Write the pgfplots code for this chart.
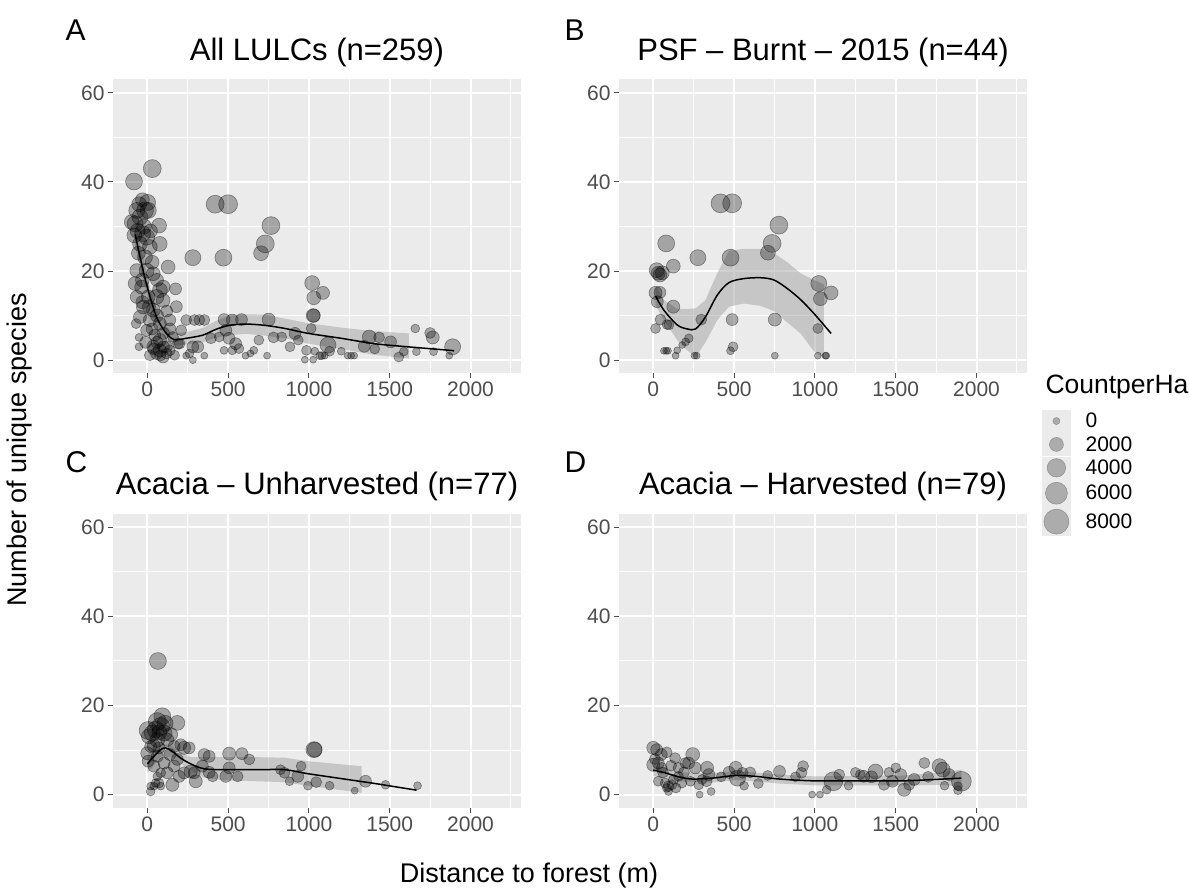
\documentclass[border=0pt]{standalone}
\usepackage{fontspec}
\setmainfont{Liberation Sans}
\usepackage{pgfplots}
\pgfplotsset{compat=1.18}
\usepackage{pgfplotstable}
\definecolor{panelbg}{RGB}{235,235,235}
\definecolor{ticklab}{RGB}{77,77,77}
\definecolor{bandc}{RGB}{153,153,153}
\definecolor{keybg}{RGB}{235,235,235}
\definecolor{keypt}{RGB}{172,172,172}
\definecolor{keyptd}{RGB}{140,140,140}

\pgfplotstableread{
x y c
-82 40.1 3300
31 43 3800
2 35.4 2900
420 35 3800
500 35 4300
765 30.2 3800
730 26.1 3800
704 24 2400
282 23 2900
471 23 3300
129 20.9 2000
73 30.2 2400
77 26.1 2400
175 16 1300
1020 17.3 2400
1087 15.1 1700
1030 14 2000
1026 10 2000
1030 10 1700
1014 7.1 700
1658 7.1 400
1750 6.1 1000
1766 5.1 1700
1889 3 2900
1868 1 0
1771 1.9 200
1665 1.9 200
1556 0.7 700
1587 1.9 400
1505 4.1 1300
1434 5.1 1000
1373 5.2 2000
1342 3.1 1300
1407 2.5 700
1261 1 0
1240 1 0
1280 1 0
1200 2 200
1118 3.4 2900
1128 2 700
1067 1 200
1080 1 200
1098 1 0
1036 2 200
975 0.1 0
1026 0.1 0
985 2.2 700
934 4.5 700
914 6 1300
883 3 700
832 5.2 700
781 5.1 1000
751 9.1 1700
690 4.5 700
741 1 0
659 2.2 200
638 1.5 0
608 1 0
583 9.1 1300
526 9 1300
475 9.1 1300
486 6.7 1300
506 4.9 1300
547 3.7 1300
567 2.6 700
475 2.2 200
526 2.2 400
445 5.2 700
394 4.9 1000
353 9 1000
322 9 1000
292 9 1000
241 9 1000
312 3 1300
282 3 1300
261 1.5 400
282 0 0
353 1 0
241 1 0
210 6.7 1000
180 12 1300
139 9 1300
159 5.2 1000
200 3.7 1000
-51 5.1 200
-51 3 200
-69 8.2 700
-75 30.6 2900
-96 31 2400
-45 32.1 2900
-14 33.6 3300
-65 33.6 2900
6 33.6 2900
-29 28.4 2900
-4 27.6 2900
-45 26.1 2400
16 25.4 2400
-14 23.1 2400
-65 20.1 2000
-4 20.1 2400
37 19.4 2000
-75 17.2 2000
-35 16.4 2000
78 15.7 2400
98 16.4 2000
57 14.2 2400
98 13.4 2000
6 14.2 2000
-65 14.2 1700
-24 11.9 2000
37 11.2 2000
-45 9.7 1700
16 9 1700
78 8.2 1700
-4 6.7 1300
47 5.6 1300
78 4.5 1700
37 3 1700
78 2.2 1700
118 3 1300
57 1.5 1300
98 0.7 1300
16 1.1 1000
139 2.2 1000
169 1.1 700
190 3.7 1000
-20 30 2400
20 29 2000
-55 24 2000
30 22 2000
-30 18 2000
60 18 1700
10 12 1700
60 10 1700
100 6 1300
120 11 1300
140 7 1300
30 7 1300
-10 4 1300
60 4 1300
100 3 1300
80 1 1000
40 2.5 1300
120 1.5 1000
-30 13 1700
-80 28 2400
-60 29 2400
-30 36 2000
-50 35 2400
}\ptsA

\pgfplotstableread{
x y c
416 35.2 4300
488 35.2 4300
777 30.3 3800
735 26.2 3800
709 24.1 2400
80 26.2 3300
276 23 2900
478 23 3300
21 20.2 2400
56 19.6 2000
41 19.1 2000
124 21.1 2000
14 15.1 1700
41 15.2 1300
25 13.1 1300
124 12 1700
1024 17.2 2900
1100 15.1 2000
1034 13.8 2000
45 9.1 1000
97 7.9 700
14 7.1 700
297 9.1 1000
488 9.1 1300
752 9.1 1700
1018 7.1 700
220 4.9 400
200 4.1 200
179 3.4 0
148 2.2 0
138 1 0
66 2.1 0
91 2.1 0
80 2.1 0
255 1 0
268 1 0
494 3 700
478 2.1 200
752 1 0
1018 1 0
1065 1 0
1070 1 0
30 19.5 2000
85 8 700
}\ptsB

\pgfplotstableread{
x y c
66 30 3300
93 17.6 3300
62 16.4 3800
83 15.3 3800
52 14.6 3300
5 14.4 3800
186 16.1 2400
104 13.8 2900
10 13.1 2400
62 12.3 2400
124 12.3 1700
207 11.2 1300
228 10.5 1700
259 10.5 1300
352 9 1300
0 9.3 1700
5 7.5 1300
62 8.6 1300
104 7.1 1300
166 6.4 1300
197 4.1 1300
155 2.2 1700
83 4.9 700
62 4.1 400
52 2.6 400
21 1.9 200
21 0.7 400
41 1.9 200
83 1.9 200
269 5.2 1700
300 3 1700
290 4.9 1300
383 5 1300
383 8.6 1300
341 6.4 1300
486 4.1 1300
507 9.2 1700
507 6 1300
559 4.1 1000
586 9.2 1300
631 7.9 1000
404 4.1 1000
849 4.9 1000
880 3 400
952 6.4 700
931 4.1 1300
994 2 400
1045 2.8 1000
1128 2 400
1031 10.1 2900
1036 10.1 2400
1350 3 1300
1283 0.9 0
1474 2.2 400
1672 2 200
824 5.6 700
31 13.8 2900
145 13.5 2000
166 10.8 1300
21 10.8 1300
72 10.5 1300
41 6.4 1300
124 4.9 1300
72 2.6 700
186 7.9 1300
228 4.9 1300
110 16 2900
75 14 2400
40 11 1700
140 9 1300
}\ptsC

\pgfplotstableread{
x y c
0 10.5 1700
21 10.1 1300
83 9.5 1000
0 6.7 1700
31 7.1 1300
52 6 1000
135 8.2 1000
198 7.1 1000
244 9 2000
219 7.1 1300
260 6 1300
333 6 1700
344 4.5 1300
156 6 1000
31 3 700
73 2.6 700
94 1.9 1000
115 2.2 700
94 0.7 200
83 1.5 400
125 3.4 700
156 4.1 700
177 2.6 700
281 2.2 700
287 0 0
358 0.7 200
302 3.4 700
469 5 1300
510 6 1700
521 3.7 2900
562 2 400
552 4.9 1000
708 4.3 700
781 5.2 1300
927 6.4 1000
917 4.9 1000
983 0 0
1031 0 0
1073 1.1 400
1114 3 4300
1208 2 400
1281 4.5 700
1302 4.1 1300
1375 5.2 2400
1427 2.2 1000
1458 5 700
1479 3 1300
1531 4.5 1300
1552 1.1 1700
1583 2.2 1000
1614 3.4 1300
1677 7.1 1000
1771 6.4 2400
1791 5.6 2400
1802 2 400
1885 1 400
1906 3 4800
1885 1.9 400
10 8 1000
50 9 1300
110 6.5 1000
190 5 1000
230 3 700
140 1.5 700
60 5 1000
330 3 1000
420 4 700
600 5 1000
650 2.5 700
880 4 700
1150 4.5 1000
1350 4 1300
1700 4 1000
1830 4.5 1300
1500 6 700
1250 5 700
}\ptsD

\pgfplotsset{
  gg/.style={
    scale only axis, width=408pt, height=294pt,
    xmin=-212, xmax=2312, ymin=-3, ymax=63,
    axis background/.style={fill=panelbg},
    axis line style={draw=none},
    xtick={0,500,1000,1500,2000}, ytick={0,20,40,60},
    minor xtick={250,750,1250,1750,2250}, minor ytick={10,30,50},
    xmajorgrids, ymajorgrids, xminorgrids, yminorgrids,
    major grid style={white, line width=2pt},
    minor grid style={white, line width=1pt},
    tick pos=left, tick align=outside,
    major tick length=5pt, minor tick length=0pt,
    tick style={ticklab, line width=1pt},
    tick label style={font=\fontsize{21}{21}\selectfont, text=ticklab},
    /pgf/number format/assume math mode=true,
    /pgf/number format/1000 sep={},
    scaled ticks=false,
    title style={font=\fontsize{31}{31}\selectfont, at={(0.5,1)}, anchor=base, yshift=13pt},
  },
  pts/.style={scatter, only marks, mark=*,
    scatter/use mapped color={draw=black, fill=black, fill opacity=0.3, draw opacity=0.4, line width=0.6pt},
    visualization depends on={\thisrow{c} \as \cval},
    scatter/@pre marker code/.append style={/tikz/mark size={0.5*sqrt(49+0.072*\cval)}},
  },
  band/.style={fill=bandc, fill opacity=0.45, draw=none},
  fit/.style={black, line width=1.5pt, smooth, tension=0.5},
}

\begin{document}
\begin{tikzpicture}
\path[use as bounding box] (0,0) rectangle (1189pt,891pt);

% Panel A
\begin{axis}[gg, at={(113pt,517.5pt)}, anchor=south west, title={All LULCs (n=259)}]
\addplot[pts] table[x=x,y=y] {\ptsA};
\addplot[band] coordinates {(-75,31) (0,18.5) (57,11.5) (118,7.5) (169,6) (241,6.3) (343,7.2) (424,8.8) (506,10) (608,10.3) (730,10.2) (853,9.3) (996,8.3) (1200,7.3) (1403,6.5) (1618,6) (1618,0.4) (1403,1.2) (1200,2.5) (996,3.7) (853,4.9) (730,5.5) (608,5.9) (506,5.6) (424,5) (343,4) (241,3.5) (169,3.2) (118,4.5) (57,8) (0,14.3) (-75,25.5)} -- cycle;
\addplot[fit] coordinates {(-75,28.2) (-35,21.6) (0,16.4) (57,9.7) (118,6) (169,4.6) (241,4.9) (343,5.6) (424,6.9) (506,7.8) (608,8.1) (730,7.8) (853,7.1) (996,6) (1200,4.9) (1403,3.7) (1608,3) (1873,2.2) (1893,2.1)};
\end{axis}

% Panel B
\begin{axis}[gg, at={(619pt,517.5pt)}, anchor=south west, title={PSF – Burnt – 2015 (n=44)}]
\addplot[pts] table[x=x,y=y] {\ptsB};
\addplot[band] coordinates {(14,16.8) (66,13.5) (148,11.5) (210,11.5) (262,11.6) (323,13.5) (396,19.5) (468,24.5) (560,25) (663,25) (746,24) (828,22) (911,19.5) (993,18) (1055,17) (1055,0.5) (993,2) (911,6) (828,8.5) (746,11) (663,12.2) (560,12.7) (468,12) (396,9) (323,4) (262,0.7) (210,2.2) (148,4.5) (66,9) (14,12.3)} -- cycle;
\addplot[fit] coordinates {(14,14.4) (66,11.2) (148,7.9) (210,7) (262,7) (323,9.7) (396,14.6) (468,17.4) (560,18.3) (663,18.5) (746,18) (828,16.1) (911,13.6) (993,10.5) (1100,6)};
\end{axis}

% Panel C
\begin{axis}[gg, at={(113pt,83pt)}, anchor=south west, title={Acacia – Unharvested (n=77)}]
\addplot[pts] table[x=x,y=y] {\ptsC};
\addplot[band] coordinates {(0,9) (83,11.5) (155,11) (207,9.5) (269,8.4) (352,8.4) (476,8.4) (683,8.4) (849,8.3) (994,7.5) (1200,6.8) (1326,6.4) (1326,0.4) (1200,1) (994,2) (849,2.8) (683,3) (476,3.2) (352,3.8) (269,5.4) (207,6.9) (155,8.4) (83,8.6) (0,4.8)} -- cycle;
\addplot[fit] coordinates {(0,6.9) (41,8.6) (83,10.1) (114,10.5) (155,9.7) (207,8.2) (269,6.9) (352,5.8) (476,5.6) (683,5.6) (849,5.6) (994,4.7) (1200,3.6) (1408,2.5) (1511,1.9) (1666,1)};
\end{axis}

% Panel D
\begin{axis}[gg, at={(619pt,83pt)}, anchor=south west, title={Acacia – Harvested (n=79)},
  legend style={at={(1.0368,1.355)}, anchor=north west, draw=none, fill=none, inner sep=0pt,
    row sep=1pt, font=\fontsize{21}{21}\selectfont, nodes={inner sep=0pt},
    /tikz/every odd column/.style={column sep=15pt}},
  legend cell align=left]
\addlegendimage{legend image code/.code={\fill[keybg] (0pt,-11pt) rectangle (28pt,11pt); \filldraw[fill=keypt, draw=keyptd, line width=0.5pt] (14pt,0pt) circle (3.5pt);}}
\addlegendentry{0}
\addlegendimage{legend image code/.code={\fill[keybg] (0pt,-11pt) rectangle (28pt,11pt); \filldraw[fill=keypt, draw=keyptd, line width=0.5pt] (14pt,0pt) circle (6.95pt);}}
\addlegendentry{2000}
\addlegendimage{legend image code/.code={\fill[keybg] (0pt,-11pt) rectangle (28pt,11pt); \filldraw[fill=keypt, draw=keyptd, line width=0.5pt] (14pt,0pt) circle (9.2pt);}}
\addlegendentry{4000}
\addlegendimage{legend image code/.code={\fill[keybg] (0pt,-13pt) rectangle (28pt,13pt); \filldraw[fill=keypt, draw=keyptd, line width=0.5pt] (14pt,0pt) circle (10.95pt);}}
\addlegendentry{6000}
\addlegendimage{legend image code/.code={\fill[keybg] (0pt,-14pt) rectangle (28pt,14pt); \filldraw[fill=keypt, draw=keyptd, line width=0.5pt] (14pt,0pt) circle (12.5pt);}}
\addlegendentry{8000}
\addplot[pts, forget plot] table[x=x,y=y] {\ptsD};
\addplot[band, forget plot] coordinates {(0,6.8) (156,5) (365,4.8) (510,5.3) (781,4.5) (990,4.1) (1302,4.2) (1552,4.3) (1791,5) (1906,5.6) (1906,1.8) (1791,2.2) (1552,2.1) (1302,2.1) (990,2.1) (781,2.5) (510,3.3) (365,2.7) (156,3) (0,4.2)} -- cycle;
\addplot[fit, forget plot] coordinates {(0,5.5) (73,4.9) (156,4) (240,3.5) (365,3.7) (510,4.3) (635,4.1) (781,3.5) (990,3.1) (1302,3.1) (1552,3.1) (1791,3.5) (1906,3.7)};
\end{axis}

% tags and shared labels
\node[anchor=base west, font=\fontsize{30}{30}\selectfont] at (62pt,850pt) {A};
\node[anchor=base west, font=\fontsize{30}{30}\selectfont] at (561pt,850pt) {B};
\node[anchor=base west, font=\fontsize{30}{30}\selectfont] at (62pt,418pt) {C};
\node[anchor=base west, font=\fontsize{30}{30}\selectfont] at (561pt,418pt) {D};
\node[anchor=base west, font=\fontsize{26.5}{26.5}\selectfont] at (1042pt,497pt) {CountperHa};
\node[anchor=base, font=\fontsize{27}{27}\selectfont] at (529pt,8pt) {Distance to forest (m)};
\node[anchor=base, rotate=90, font=\fontsize{27}{27}\selectfont] at (27pt,441pt) {Number of unique species};
\end{tikzpicture}
\end{document}
